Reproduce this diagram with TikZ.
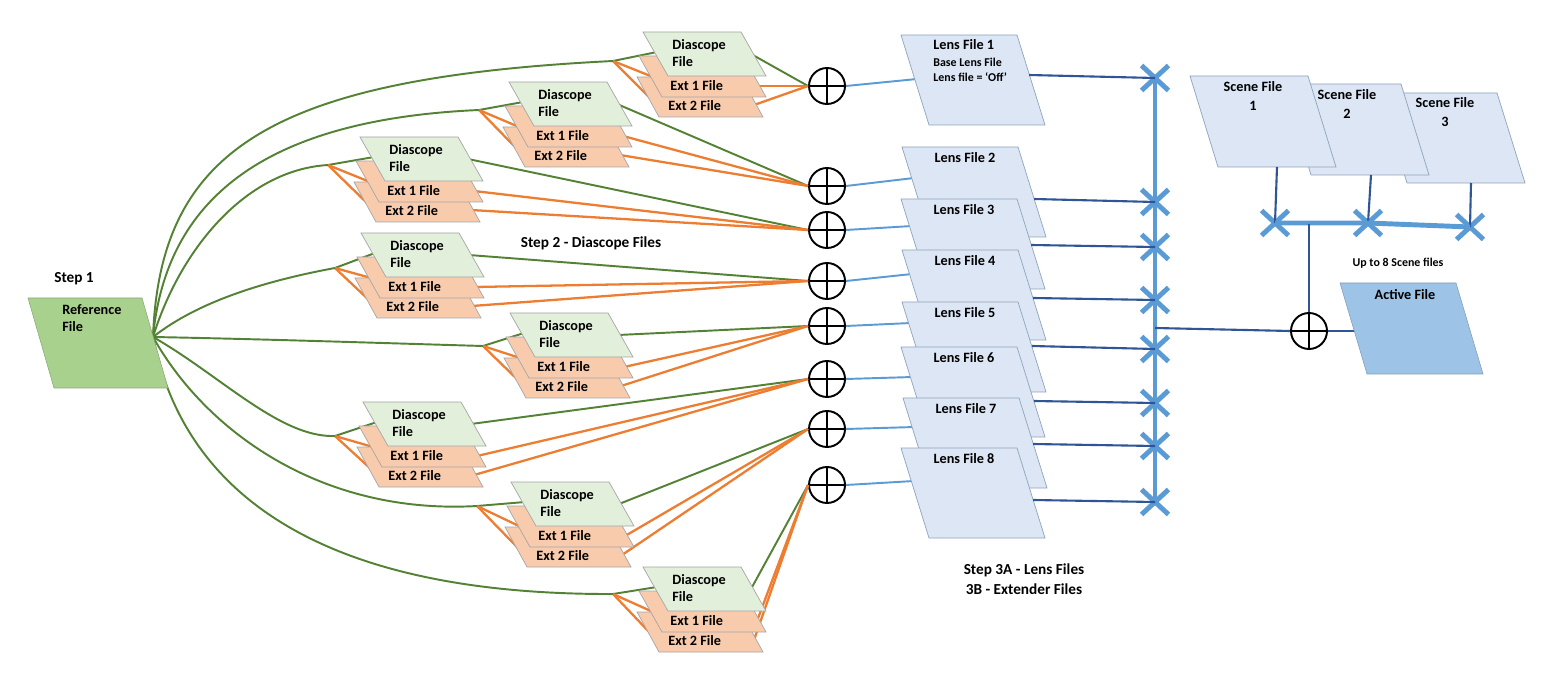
\documentclass[tikz,border=0pt]{standalone}
\usepackage{fontspec}
\setmainfont{Carlito}
\usetikzlibrary{shapes.misc}
\definecolor{dfill}{HTML}{E2EFDA}
\definecolor{efill}{HTML}{F8CBAD}
\definecolor{rfill}{HTML}{A9D18E}
\definecolor{lfill}{HTML}{DCE6F4}
\definecolor{afill}{HTML}{9DC3E6}
\definecolor{gcol}{HTML}{548235}
\definecolor{ocol}{HTML}{ED7D31}
\definecolor{bcol}{HTML}{5B9BD5}
\definecolor{dcol}{HTML}{2F5597}
\definecolor{edgecol}{HTML}{A5A5A5}
\definecolor{ledge}{HTML}{8EA4BE}
\newcommand\pgram[6]{\path[#1] (#2,#3) -- ++(#4,0) -- ++(#6,#5) -- ++(-#4,0) -- cycle;}
\newcommand\dlines[6]{%
  \coordinate (#1j) at (#4,#5);
  \coordinate (#1d) at (#2+14,#3+20);
  \coordinate (#1e1) at (#2+10,#3+45);
  \coordinate (#1e2) at (#2+9,#3+68);
  \coordinate (#1dr) at (#2+108,#3+22);
  \coordinate (#1r1) at (#2+114,#3+54);
  \coordinate (#1r2) at (#2+111,#3+73);
  \draw[gline] (#1j) -- (#1d);
  \draw[oline] (#1j) -- (#1e1);
  \draw[oline] (#1j) -- (#1e2);
  \draw[gline] (#1dr) -- (#6.west);
  \draw[oline] (#1r1) -- (#6.west);
  \draw[oline] (#1r2) -- (#6.west);
}
\newcommand\dboxes[3]{%
  \pgram{ebox}{#2-6}{#3+45}{104}{40}{22}
  \pgram{ebox}{#2-4}{#3+24}{104}{41}{23}
  \pgram{dbox}{#2}{#3}{98}{44}{25}
  \node[lbl, anchor=west, align=left] (#1dt) at (#2+29,#3+21) {Diascope\\File};
  \node[lbl, anchor=west] (#1t1) at (#2+27,#3+54) {Ext 1 File};
  \node[lbl, anchor=west] (#1t2) at (#2+25,#3+74) {Ext 2 File};
}
\newcommand\lensbox[4]{%
  \pgram{lbox}{#2}{#3}{116}{90}{28}
  \node[lbl] (#1t) at (#2+63,#3+11) {#4};
}
\tikzset{
  lbl/.style={font=\fontsize{8.1}{9.4}\selectfont\bfseries, inner sep=0pt},
  slbl/.style={font=\fontsize{6.8}{8}\selectfont\bfseries, inner sep=0pt},
  steplbl/.style={font=\fontsize{8.7}{11.3}\selectfont\bfseries, inner sep=0pt, align=center},
  gline/.style={draw=gcol, line width=1.1pt},
  oline/.style={draw=ocol, line width=1.3pt},
  bline/.style={draw=bcol, line width=1.1pt},
  dline/.style={draw=dcol, line width=1.2pt},
  barline/.style={draw=bcol, line width=2.8pt},
  dbox/.style={fill=dfill, draw=edgecol, line width=0.4pt},
  ebox/.style={fill=efill, draw=edgecol, line width=0.4pt},
  rbox/.style={fill=rfill, draw=rfill!80!black, line width=0.3pt},
  lbox/.style={fill=lfill, draw=ledge, line width=0.4pt},
  abox/.style={fill=afill, draw=afill!80!black, line width=0.3pt},
  oplus/.style={circle, draw=black, line width=1.1pt, minimum size=0.72cm, inner sep=0pt,
    path picture={\draw[line width=1.1pt] (path picture bounding box.north) -- (path picture bounding box.south)
      (path picture bounding box.west) -- (path picture bounding box.east);}},
  xmk/.style={cross out, draw=bcol, line width=2.8pt, minimum width=0.44cm, minimum height=0.4cm, inner sep=0pt},
}
\begin{document}
\begin{tikzpicture}[x=0.02cm,y=-0.02cm]
\useasboundingbox (0,0) rectangle (1545,675);
\fill[white] (0,0) rectangle (1545,675);

% summing circles
\node[oplus] (c1) at (827,86) {};
\node[oplus] (c2) at (827,186) {};
\node[oplus] (c3) at (827,230) {};
\node[oplus] (c4) at (827,281) {};
\node[oplus] (c5) at (827,326) {};
\node[oplus] (c6) at (827,379) {};
\node[oplus] (c7) at (827,429) {};
\node[oplus] (c8) at (827,485) {};

% reference origin
\coordinate (R) at (153,337);

% group connectors
\dlines{g1}{643}{32}{613}{61}{c1}
\dlines{g2}{509}{82}{479}{110}{c2}
\dlines{g3}{360}{137}{328}{165}{c3}
\dlines{g4}{361}{233}{335}{268}{c4}
\dlines{g5}{510}{313}{483}{346}{c5}
\dlines{g6}{363}{402}{335}{436}{c6}
\dlines{g7}{511}{482}{477}{506}{c7}
\dlines{g8}{643}{567}{613}{594}{c8}

% green curves from reference file
\draw[gline] (R) .. controls (160,150) and (270,78) .. (g1j);
\draw[gline] (R) .. controls (165,210) and (250,120) .. (g2j);
\draw[gline] (R) .. controls (180,250) and (245,170) .. (g3j);
\draw[gline] (R) .. controls (200,300) and (270,280) .. (g4j);
\draw[gline] (R) .. controls (260,339) and (380,343) .. (g5j);
\draw[gline] (R) .. controls (220,375) and (280,438) .. (g6j);
\draw[gline] (R) .. controls (205,430) and (320,515) .. (g7j);
\draw[gline] (R) .. controls (185,500) and (330,595) .. (g8j);

% diascope groups
\dboxes{g1}{643}{32}
\dboxes{g2}{509}{82}
\dboxes{g3}{360}{137}
\dboxes{g4}{361}{233}
\dboxes{g5}{510}{313}
\dboxes{g6}{363}{402}
\dboxes{g7}{511}{482}
\dboxes{g8}{643}{567}

% reference file
\pgram{rbox}{28}{298}{114}{90}{26}
\node[steplbl] (step1) at (74,279) {Step 1};
\node[lbl, anchor=west, align=left] (reft) at (62,318) {Reference\\File};
\node[steplbl] (step2) at (591,243) {Step 2 - Diascope Files};

% circle -> lens lines
\coordinate (li1) at (917,79);
\coordinate (li2) at (914,178);
\coordinate (li3) at (912,226);
\coordinate (li4) at (912,274);
\coordinate (li5) at (911,323);
\coordinate (li6) at (913,377);
\coordinate (li7) at (915,427);
\coordinate (li8) at (914,481);
\foreach \i in {1,...,8} {\draw[bline] (c\i.east) -- (li\i);}

% lens files
\pgram{lbox}{901}{35}{116}{90}{28}
\node[lbl, anchor=west] (l1t) at (933,45) {Lens File 1};
\node[slbl, anchor=west] (l1s) at (933,62) {Base Lens File};
\node[slbl, anchor=west] (l1o) at (933,77) {Lens file = `Off'};
\lensbox{l2}{902}{147}{Lens File 2}
\lensbox{l3}{901}{199}{Lens File 3}
\lensbox{l4}{902}{250}{Lens File 4}
\lensbox{l5}{902}{302}{Lens File 5}
\lensbox{l6}{901}{347}{Lens File 6}
\lensbox{l7}{903}{398}{Lens File 7}
\lensbox{l8}{901}{448}{Lens File 8}
\node[steplbl] (step3) at (1024,579) {Step 3A - Lens Files\\3B - Extender Files};

% lens -> bar
\coordinate (lr1) at (1029,75);
\coordinate (lr2) at (1034,199);
\coordinate (lr3) at (1031,245);
\coordinate (lr4) at (1033,298);
\coordinate (lr5) at (1032,346);
\coordinate (lr6) at (1034,401);
\coordinate (lr7) at (1033,444);
\coordinate (lr8) at (1033,500);
\node[xmk] (x1) at (1155,78) {};
\node[xmk] (x2) at (1155,202) {};
\node[xmk] (x3) at (1155,247) {};
\node[xmk] (x4) at (1155,300) {};
\node[xmk] (x5) at (1155,349) {};
\node[xmk] (x6) at (1155,403) {};
\node[xmk] (x7) at (1155,446) {};
\node[xmk] (x8) at (1155,502) {};
\draw[barline] (x1.center) -- (x8.center);
\foreach \i in {1,...,8} {\draw[dline] (lr\i) -- (x\i.center);}

% scene files
\pgram{lbox}{1379}{93}{118}{90}{28}
\pgram{lbox}{1283}{84}{118}{91}{28}
\pgram{lbox}{1190}{76}{118}{91}{28}
\node[lbl, align=center, font=\fontsize{8.1}{10.8}\selectfont\bfseries] (s1t) at (1253,96) {Scene File\\1};
\node[lbl, align=center, font=\fontsize{8.1}{10.8}\selectfont\bfseries] (s2t) at (1347,104) {Scene File\\2};
\node[lbl, align=center, font=\fontsize{8.1}{10.8}\selectfont\bfseries] (s3t) at (1445,112) {Scene File\\3};
\coordinate (sb1) at (1277,167);
\coordinate (sb2) at (1371,175);
\coordinate (sb3) at (1471,183);
\node[xmk] (sx1) at (1275,223) {};
\node[xmk] (sx2) at (1368,223) {};
\node[xmk] (sx3) at (1470,227) {};
\draw[dline] (sb1) -- (sx1.center);
\draw[dline] (sb2) -- (sx2.center);
\draw[dline] (sb3) -- (sx3.center);
\draw[barline] (sx1.center) -- (sx2.center) -- (sx3.center);
\node[slbl] (upto) at (1398,263) {Up to 8 Scene files};

% active file
\node[oplus] (ac) at (1309,331) {};
\coordinate (sbj) at (1309,224);
\coordinate (bj) at (1155,328);
\coordinate (ain) at (1356,331);
\draw[dline] (sbj) -- (ac.north);
\draw[dline] (bj) -- (ac.west);
\draw[dline] (ac.east) -- (ain);
\pgram{abox}{1340}{283}{116}{91}{27}
\node[lbl] (at) at (1405,295) {Active File};
\end{tikzpicture}
\end{document}
